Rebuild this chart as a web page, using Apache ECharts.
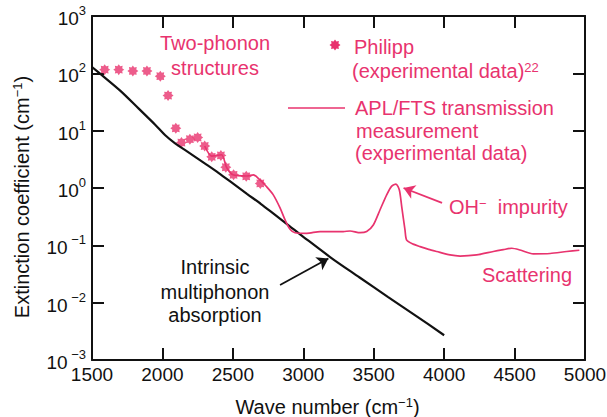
<!DOCTYPE html>
<html>
<head>
<meta charset="utf-8">
<script src="https://cdn.jsdelivr.net/npm/echarts@6/dist/echarts.min.js"></script>
<style>
html,body{margin:0;padding:0;background:#fff;}
#chart{width:607px;height:417px;}
</style>
</head>
<body>
<div id="chart"></div>
<script>
// ---- Data ----
const intrinsicX = [1500, 1570, 1700, 1830, 1950, 2020, 2090, 2180, 2300, 2400, 2500, 2600, 2700, 2800, 2900, 3000, 3200, 3400, 3600, 3800, 4000];
const intrinsicY = [129, 93, 50, 24.5, 12.6, 8.3, 6.0, 4.27, 2.69, 1.82, 1.20, 0.79, 0.525, 0.339, 0.219, 0.141, 0.060, 0.0275, 0.0126, 0.0059, 0.0027];

const philippX = [1590, 1690, 1790, 1890, 1985, 2040, 2095, 2135, 2195, 2250, 2300, 2350, 2415, 2450, 2505, 2595, 2695];
const philippY = [116, 116, 110, 110, 89, 41, 11, 6.2, 7.1, 7.6, 5.4, 3.5, 3.7, 2.3, 1.7, 1.6, 1.2];

const ftsX = [2300, 2350, 2420, 2455, 2500, 2600, 2645, 2693, 2740, 2787, 2835, 2870, 2906, 2941, 3024, 3119, 3190, 3284, 3332, 3403, 3450, 3497, 3545, 3592, 3628, 3658, 3682, 3699, 3722, 3734, 3780, 3829, 3890, 3947, 4042, 4113, 4231, 4349, 4420, 4480, 4539, 4633, 4752, 4870, 4960];
const ftsY = [5.4, 3.6, 3.8, 2.3, 1.7, 1.62, 1.7, 1.38, 1.05, 0.76, 0.45, 0.28, 0.19, 0.166, 0.162, 0.174, 0.174, 0.174, 0.178, 0.166, 0.174, 0.226, 0.417, 0.76, 1.08, 1.17, 0.92, 0.47, 0.186, 0.123, 0.105, 0.095, 0.085, 0.078, 0.068, 0.065, 0.068, 0.078, 0.084, 0.089, 0.083, 0.071, 0.072, 0.078, 0.082];

const xTickValues = [1500, 2000, 2500, 3000, 3500, 4000, 4500, 5000];
const yTickExponents = [-3, -2, -1, 0, 1, 2, 3];

// arrows (annotation coords in data space)
const arrowIntrinsic = [[2835, 0.0204], [3178, 0.059]];
const arrowOH = [[3985, 0.55], [3712, 1.0]];

// ---- Style ----
const PINK = '#e8336e';
const FONT = 'Liberation Sans, Arial, sans-serif';
const FS = 20;
const TFS = 19;

function starPoints(cx, cy, R) {
  const pts = [];
  for (let i = 0; i < 16; i++) {
    const r = (i % 2 === 0) ? R : R * 0.68;
    const a = i * Math.PI / 8 - Math.PI / 2;
    pts.push([cx + r * Math.cos(a), cy + r * Math.sin(a)]);
  }
  return pts;
}
function starPath() {
  const pts = starPoints(50, 50, 50);
  return 'path://' + pts.map((p, i) => (i === 0 ? 'M' : 'L') + p[0].toFixed(2) + ' ' + p[1].toFixed(2)).join(' ') + ' Z';
}

const zip = (xs, ys) => xs.map((x, i) => [x, ys[i]]);

const chart = echarts.init(document.getElementById('chart'), null, {renderer: 'svg', width: 607, height: 417});

const supRich = {
  b: {fontSize: TFS, fontFamily: FONT, color: '#111', lineHeight: 24, verticalAlign: 'bottom'},
  s: {fontSize: 13, fontFamily: FONT, color: '#111', lineHeight: 13, verticalAlign: 'top'}
};
const nameRich = {
  s: {fontSize: 13, fontFamily: FONT, color: '#111', lineHeight: 13, verticalAlign: 'top'}
};

const axisCommonX = {
  type: 'value', min: xTickValues[0], max: xTickValues[xTickValues.length - 1], interval: 500,
  axisLine: {show: true, lineStyle: {color: '#111', width: 2}},
  axisTick: {show: true, inside: true, length: 12, lineStyle: {color: '#111', width: 2}},
  splitLine: {show: false}
};
const axisCommonY = {
  type: 'log', logBase: 10, min: Math.pow(10, yTickExponents[0]), max: Math.pow(10, yTickExponents[yTickExponents.length - 1]),
  splitNumber: 6,
  axisLine: {show: true, lineStyle: {color: '#111', width: 2}},
  axisTick: {show: true, inside: true, length: 12, lineStyle: {color: '#111', width: 2}},
  splitLine: {show: false}
};

const textEl = (x, y, text, color, align, rich) => ({
  type: 'text', x: x, y: y, silent: true,
  style: Object.assign({text: text, font: FS + 'px ' + FONT, fill: color, align: align, verticalAlign: 'middle'},
    rich ? {rich: rich} : {})
});
const pinkSup = {s: {fontSize: 13, fontFamily: FONT, fill: PINK, verticalAlign: 'top', lineHeight: 13}};

const option = {
  animation: false,
  backgroundColor: '#ffffff',
  grid: {left: 92, right: 22, top: 16, bottom: 57, containLabel: false, outerBoundsMode: 'none'},
  xAxis: [
    Object.assign({}, axisCommonX, {
      position: 'bottom',
      name: 'Wave number (cm{s|−1})',
      nameLocation: 'middle', nameGap: 36,
      nameTextStyle: {fontSize: FS, fontFamily: FONT, color: '#111', lineHeight: 22, padding: [0, 22, 0, 0], rich: nameRich},
      axisLabel: {show: true, margin: 5, fontSize: TFS, fontFamily: FONT, color: '#111',
        formatter: v => String(v)}
    }),
    Object.assign({}, axisCommonX, {position: 'top', axisLabel: {show: false}})
  ],
  yAxis: [
    Object.assign({}, axisCommonY, {
      position: 'left',
      name: 'Extinction coefficient (cm{s|−1})',
      nameLocation: 'middle', nameGap: 59, nameRotate: 90,
      nameTextStyle: {fontSize: FS, fontFamily: FONT, color: '#111', lineHeight: 22, padding: [0, 18, 0, 0], rich: nameRich},
      axisLabel: {show: true, margin: 6,
        formatter: v => {
          const e = Math.round(Math.log10(v));
          return '{b|10}{s|' + (e < 0 ? ' −' + (-e) : String(e)) + '}';
        },
        rich: supRich}
    }),
    Object.assign({}, axisCommonY, {position: 'right', axisLabel: {show: false}})
  ],
  series: [
    {
      name: 'Intrinsic multiphonon absorption', type: 'line', xAxisIndex: 0, yAxisIndex: 0,
      data: zip(intrinsicX, intrinsicY), showSymbol: false, symbol: 'none', smooth: 0.3,
      lineStyle: {color: '#111', width: 2.2}, silent: true,
      markLine: {
        silent: true, symbol: ['none', 'arrow'], symbolSize: 11,
        label: {show: false},
        lineStyle: {color: '#111', width: 1.8, type: 'solid'},
        data: [[{coord: arrowIntrinsic[0]}, {coord: arrowIntrinsic[1]}]]
      }
    },
    {
      name: 'APL/FTS transmission measurement', type: 'line', xAxisIndex: 0, yAxisIndex: 0,
      data: zip(ftsX, ftsY), showSymbol: false, symbol: 'none', smooth: 0.25,
      lineStyle: {color: PINK, width: 1.7}, silent: true,
      markLine: {
        silent: true, symbol: ['none', 'arrow'], symbolSize: 11,
        label: {show: false},
        lineStyle: {color: PINK, width: 1.8, type: 'solid'},
        data: [[{coord: arrowOH[0]}, {coord: arrowOH[1]}]]
      }
    },
    {
      name: 'Philipp', type: 'scatter', xAxisIndex: 0, yAxisIndex: 0,
      data: zip(philippX, philippY), symbol: starPath(), symbolSize: 11,
      itemStyle: {color: PINK}, silent: true
    }
  ],
  graphic: [
    textEl(215, 43, 'Two-phonon', PINK, 'center'),
    textEl(215, 68, 'structures', PINK, 'center'),
    {type: 'polygon', silent: true, shape: {points: starPoints(335, 45, 5.5)}, style: {fill: PINK}},
    textEl(354, 47, 'Philipp', PINK, 'left'),
    textEl(352, 71, '(experimental data){s|22}', PINK, 'left', pinkSup),
    {type: 'line', silent: true, shape: {x1: 288, y1: 108, x2: 345, y2: 108}, style: {stroke: PINK, lineWidth: 1.7}},
    textEl(355, 108, 'APL/FTS transmission', PINK, 'left'),
    textEl(356, 131, 'measurement', PINK, 'left'),
    textEl(355, 153, '(experimental data)', PINK, 'left'),
    textEl(449, 207, 'OH{s|−}  impurity', PINK, 'left', pinkSup),
    textEl(482, 275, 'Scattering', PINK, 'left'),
    textEl(215, 267, 'Intrinsic', '#111', 'center'),
    textEl(215, 292, 'multiphonon', '#111', 'center'),
    textEl(215, 315, 'absorption', '#111', 'center')
  ]
};
chart.setOption(option);
</script>
</body>
</html>
